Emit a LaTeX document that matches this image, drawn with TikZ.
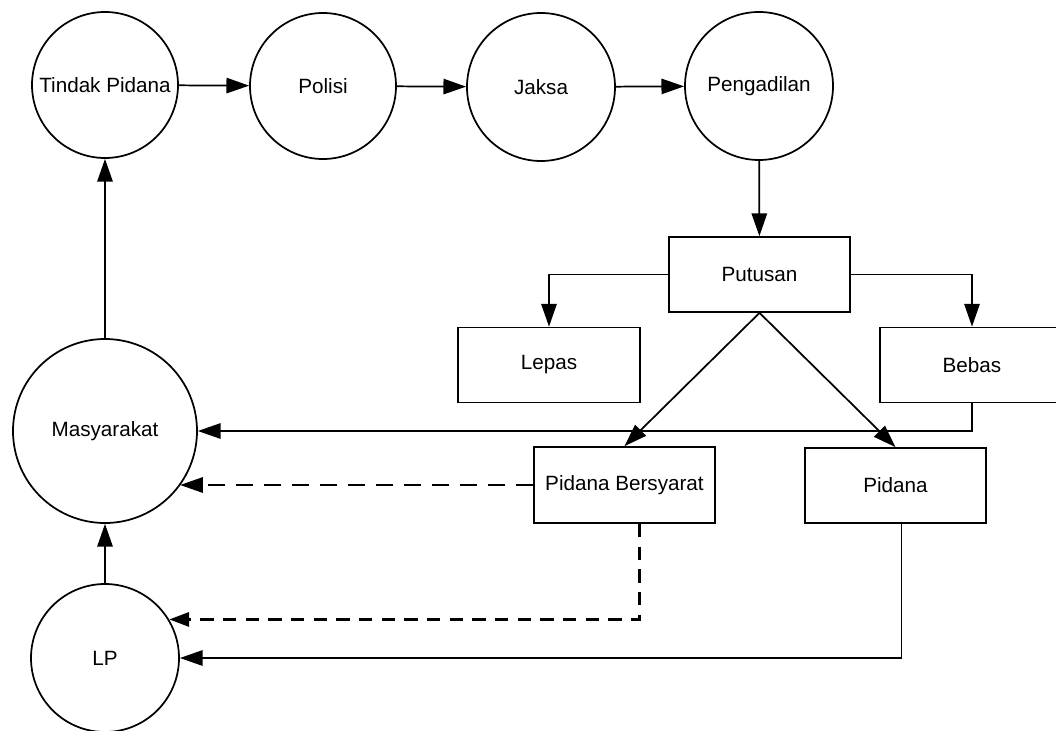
\documentclass[tikz,border=0pt]{standalone}
\usepackage{fontspec}
\setmainfont{Liberation Sans}
\usetikzlibrary{arrows.meta,calc}
\begin{document}
\begin{tikzpicture}[x=0.75pt,y=-0.75pt,
  every node/.style={font=\fontsize{15.5}{18}\selectfont},
  circ/.style={draw,circle,line width=1.3pt,inner sep=0pt,minimum size=#1*1.5pt},
  boxn/.style={draw,rectangle,line width=1.3pt,inner sep=0pt,minimum height=56.25pt,minimum width=#1*0.75pt},
  conn/.style={line width=1.3pt},
  arr/.style={conn,-{Triangle[length=17pt,width=11.5pt]}},
  dsh/.style={line width=1.3pt,dash pattern=on 13pt off 8pt,-{Triangle[length=17pt,width=11.5pt]}},
  tdsh/.style={line width=2.4pt,dash pattern=on 10pt off 7pt,-{Triangle[length=15pt,width=10.5pt]}}]
\useasboundingbox (0,0) rectangle (1056,731);
% circles
\node[circ=73] (tp) at (105,85) {};
\node at (tp) {Tindak Pidana};
\node[circ=73] (pol) at (323,86) {};
\node at (pol) {Polisi};
\node[circ=74] (jak) at (541,87) {};
\node at (jak) {Jaksa};
\node[circ=74] (peng) at (759,86) {};
\node at (peng) {Pengadilan};
\node[circ=92] (masy) at (105,431) {};
\node at (masy) {Masyarakat};
\node[circ=74] (lp) at (105,658) {};
\node at (lp) {LP};
% boxes
\node[boxn=181] (put) at (759.5,274.5) {Putusan};
\node[boxn=182] (lep) at (549,365) {Lepas};
\node[boxn=184] (beb) at (972,365) {Bebas};
\node[boxn=181,minimum height=57pt] (pb) at (624.5,485) {Pidana Bersyarat};
\node[boxn=181] (pid) at (895.5,485.5) {Pidana};
% connectors
\draw[arr] (tp) -- (pol);
\draw[arr] (pol) -- (jak);
\draw[arr] (jak) -- (peng);
\draw[arr] (peng) -- (put);
\draw[arr] (put.west) -| (lep.north);
\draw[arr] (put.east) -| (beb.north);
\draw[arr] (put.south) -- (pb.north);
\draw[arr] (put.south) -- (pid.north);
\draw[arr] (beb.south) |- (masy.east);
\draw[conn] ($(lep.south)+(4,0)$) -- ($(lep.south)+(4,0)$ |- masy.east);
\draw[dsh] (pb.west) -- (pb.west -| masy.-36.7);
\draw[tdsh] ($(pb.south)+(15,0)$) |- (lp.31.8);
\draw[arr] ($(pid.south)+(6,0)$) |- (lp.east);
\draw[arr] (lp) -- (masy);
\draw[arr] (masy) -- (tp);
\end{tikzpicture}
\end{document}
